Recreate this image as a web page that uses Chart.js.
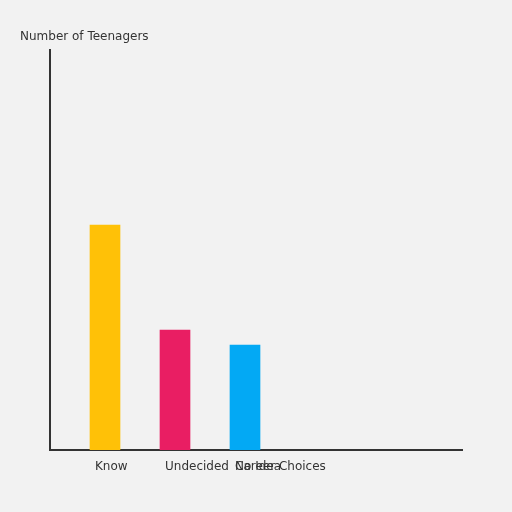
<!DOCTYPE html>
<html lang="en">
<head>
    <meta charset="UTF-8">
    <title>Career Choices</title>
    <script src="https://cdn.jsdelivr.net/npm/chart.js"></script>
    <style>
        body {
            margin: 0;
            background-color: #f2f2f2;
        }
        #wrap {width: 512px; height: 512px;}
    </style>
</head>
<body>
    <div id="wrap"><canvas id="chart" width="512" height="512"></canvas></div>

    <script>
        // data
        const categories = ['Know', 'Undecided', 'No Idea']
        const teenagers = [45, 24, 21]
        const barColors = ['#ffc107', '#e91e63', '#03a9f4']
        const yTitle = 'Number of Teenagers'
        const xTitle = 'Career Choices'

        const textColor = '#333333'
        const font = '12px "DejaVu Sans", sans-serif'

        // labels and titles sit outside the plot, drawn by hand
        const labelPlugin = {
            id: 'labels',
            afterDraw(chart) {
                let ctx = chart.ctx
                let area = chart.chartArea
                let xs = chart.scales.x
                ctx.save()
                ctx.font = font
                ctx.fillStyle = textColor
                ctx.textBaseline = 'middle'
                ctx.textAlign = 'left'
                categories.forEach((c, i) => {
                    let px = xs.getPixelForValue(i + 1)
                    ctx.fillText(c, px - 10, area.bottom + 17)
                })
                ctx.fillText(xTitle, 235, area.bottom + 17)
                ctx.fillText(yTitle, area.left - 30, area.top - 13)
                ctx.restore()
            }
        }

        let ctx = document.getElementById('chart').getContext('2d')
        new Chart(ctx, {
            type: 'bar',
            data: {
                datasets: [{
                    data: categories.map((c, i) => ({x: i + 1, y: teenagers[i]})),
                    backgroundColor: barColors,
                    borderWidth: 0,
                    barThickness: 30
                }]
            },
            options: {
                responsive: false,
                animation: false,
                layout: {padding: {left: 50, top: 50, right: 50, bottom: 62}},
                plugins: {legend: {display: false}, tooltip: {enabled: false}},
                scales: {
                    x: {
                        type: 'linear',
                        offset: false,
                        min: 0.2143,
                        max: 6.1,
                        grid: {display: false, drawTicks: false, offset: false},
                        ticks: {display: false},
                        border: {display: true, color: '#333333', width: 2}
                    },
                    y: {
                        min: 0,
                        max: 80,
                        grid: {display: false, drawTicks: false},
                        ticks: {display: false},
                        border: {display: true, color: '#333333', width: 2}
                    }
                }
            },
            plugins: [labelPlugin]
        })
    </script>
</body>
</html>
